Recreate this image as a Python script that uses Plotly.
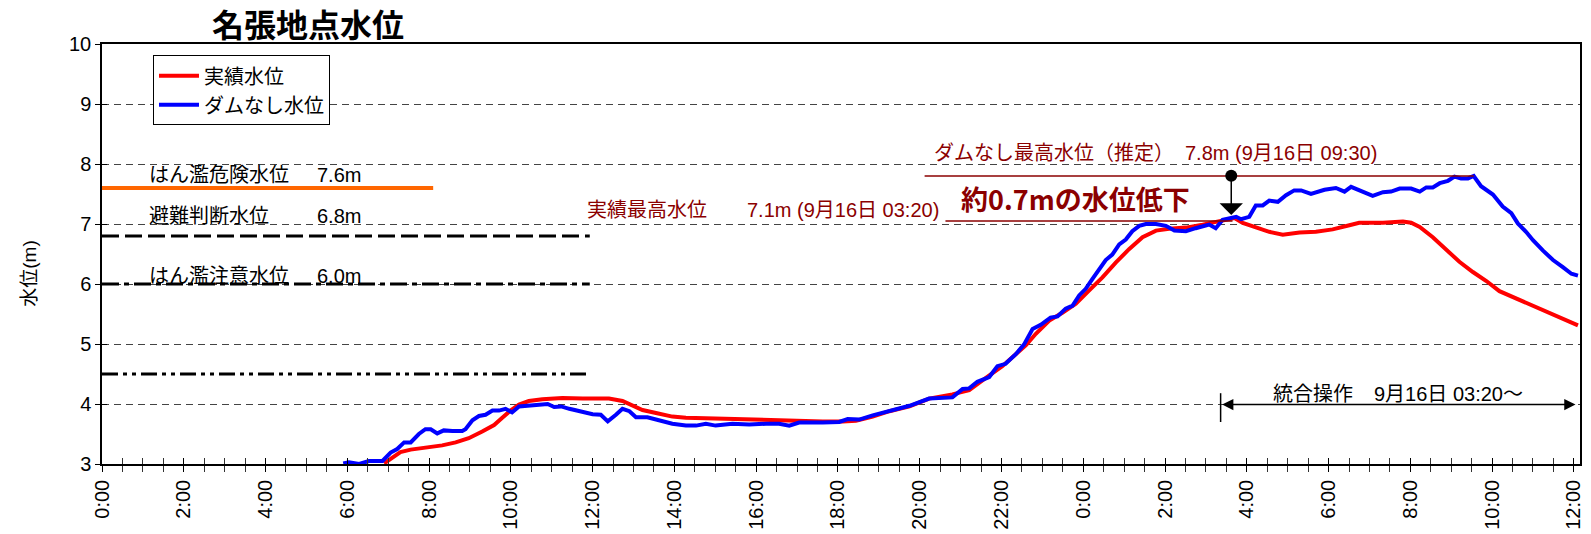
import plotly.graph_objects as go

# ---------------- data (hours from 9/15 0:00) ----------------
hours_actual = [6.9, 7.1, 7.3, 7.55, 7.91, 8.32, 8.65, 8.97, 9.3, 9.59, 9.79, 9.99, 10.2, 10.44,
                10.77, 11.26, 11.76, 12.4, 12.73, 12.98, 13.22, 13.55, 13.95, 14.28, 15.18, 16.0,
                16.81, 17.63, 18.12, 18.44, 18.85, 19.26, 19.75, 20.23, 20.8, 21.21, 21.61, 22.02,
                22.35, 22.6, 22.84, 23.17, 23.49, 23.82, 24.14, 24.47, 24.8, 25.12, 25.45, 25.78,
                26.1, 26.51, 26.92, 27.33, 27.7, 27.9, 28.22, 28.55, 28.88, 29.29, 29.69, 30.1,
                30.51, 30.75, 31.33, 31.82, 32.02, 32.23, 32.55, 32.88, 33.2, 33.53, 33.86, 34.18,
                34.59, 35.0, 35.41, 35.81, 36.1]
level_actual = [3.01, 3.11, 3.2, 3.24, 3.27, 3.31, 3.36, 3.43, 3.54, 3.65, 3.77, 3.89, 3.99, 4.05,
                4.08, 4.1, 4.09, 4.09, 4.05, 3.97, 3.9, 3.85, 3.79, 3.77, 3.75, 3.74,
                3.72, 3.71, 3.71, 3.72, 3.79, 3.88, 3.96, 4.09, 4.16, 4.23, 4.43, 4.63,
                4.83, 4.98, 5.17, 5.39, 5.52, 5.67, 5.89, 6.11, 6.36, 6.58, 6.78, 6.89,
                6.92, 6.94, 6.99, 7.05, 7.1, 7.02, 6.95, 6.87, 6.82, 6.86, 6.87, 6.91,
                6.98, 7.02, 7.02, 7.04, 7.02, 6.95, 6.78, 6.56, 6.37, 6.2, 6.05, 5.88,
                5.76, 5.64, 5.53, 5.41, 5.31]

hours_nodam = [5.9, 6.04, 6.29, 6.53, 6.86, 7.06, 7.22, 7.39, 7.55, 7.75, 7.91, 8.04, 8.2, 8.36,
               8.57, 8.81, 8.89, 9.06, 9.22, 9.38, 9.55, 9.71, 9.87, 10.03, 10.2, 10.44, 10.69,
               10.9, 11.06, 11.23, 11.43, 11.76, 12.0, 12.2, 12.37, 12.57, 12.73, 12.9, 13.06,
               13.34, 13.63, 13.95, 14.28, 14.53, 14.77, 15.01, 15.42, 15.83, 16.24, 16.56, 16.81,
               17.05, 17.63, 18.03, 18.24, 18.52, 18.85, 19.26, 19.75, 20.23, 20.8, 21.05, 21.21,
               21.41, 21.7, 21.9, 22.1, 22.35, 22.55, 22.76, 22.96, 23.2, 23.37, 23.57, 23.74,
               23.9, 24.06, 24.23, 24.39, 24.55, 24.71, 24.88, 25.04, 25.2, 25.37, 25.53, 25.78,
               26.02, 26.23, 26.51, 26.75, 27.08, 27.24, 27.41, 27.74, 27.86, 28.06, 28.22, 28.39,
               28.55, 28.76, 28.96, 29.16, 29.33, 29.57, 29.9, 30.18, 30.39, 30.55, 30.84, 31.08,
               31.33, 31.53, 31.74, 32.02, 32.23, 32.39, 32.55, 32.72, 32.92, 33.08, 33.24, 33.41,
               33.55, 33.73, 34.02, 34.26, 34.47, 34.63, 34.83, 35.0, 35.24, 35.49, 35.73, 35.94,
               36.1]
level_nodam = [3.01, 3.03, 3.0, 3.05, 3.05, 3.19, 3.25, 3.36, 3.36, 3.5, 3.58, 3.58, 3.51, 3.56,
               3.55, 3.55, 3.58, 3.73, 3.8, 3.82, 3.89, 3.89, 3.92, 3.86, 3.96, 3.97, 3.98,
               4.0, 3.95, 3.96, 3.92, 3.86, 3.83, 3.82, 3.71, 3.82, 3.92, 3.88, 3.78,
               3.78, 3.73, 3.67, 3.64, 3.64, 3.67, 3.64, 3.67, 3.66, 3.67, 3.67, 3.64,
               3.69, 3.69, 3.7, 3.75, 3.74, 3.81, 3.88, 3.97, 4.09, 4.11, 4.25, 4.26,
               4.37, 4.45, 4.63, 4.67, 4.83, 4.99, 5.25, 5.32, 5.44, 5.46, 5.59, 5.64,
               5.81, 5.92, 6.09, 6.24, 6.4, 6.49, 6.66, 6.74, 6.88, 6.97, 7.0, 7.0,
               6.97, 6.89, 6.88, 6.93, 6.99, 6.93, 7.07, 7.12, 7.08, 7.12, 7.31, 7.31,
               7.39, 7.37, 7.48, 7.56, 7.56, 7.5, 7.57, 7.6, 7.54, 7.62, 7.54, 7.47,
               7.53, 7.54, 7.59, 7.59, 7.54, 7.61, 7.61, 7.68, 7.72, 7.79, 7.76, 7.76,
               7.8, 7.63, 7.49, 7.29, 7.18, 7.01, 6.87, 6.73, 6.56, 6.4, 6.28, 6.17,
               6.14]

series_names = ["実績水位", "ダムなし水位"]

tick_hours = [0, 2, 4, 6, 8, 10, 12, 14, 16, 18, 20, 22, 24, 26, 28, 30, 32, 34, 36]
tick_labels = ["0:00", "2:00", "4:00", "6:00", "8:00", "10:00", "12:00", "14:00", "16:00",
               "18:00", "20:00", "22:00", "0:00", "2:00", "4:00", "6:00", "8:00", "10:00", "12:00"]
y_ticks = [3, 4, 5, 6, 7, 8, 9, 10]

# reference water levels
ref_names = ["はん濫危険水位", "避難判断水位", "はん濫注意水位"]
ref_levels = [7.6, 6.8, 6.0, 4.5]
ref_level_text = ["7.6m", "6.8m", "6.0m"]
ref_end_hours = [8.1, 11.93, 11.93, 11.93]

peak_actual = 7.1
peak_nodam = 7.8
peak_actual_text = ["実績最高水位", "7.1m (9月16日 03:20)"]
peak_nodam_text = ["ダムなし最高水位（推定）", "7.8m (9月16日 09:30)"]
reduction_text = "約0.7mの水位低下"
operation_text = ["統合操作", "9月16日 03:20～"]
operation_start = 27.36
operation_end = 36.04

# ---------------- figure ----------------
FONT = "Liberation Sans, Arial, Noto Sans CJK JP, sans-serif"
DARKRED = "#8B0000"
TXT = 20

fig = go.Figure()
fig.add_trace(go.Scatter(x=hours_actual, y=level_actual, mode="lines", name=series_names[0],
                         line=dict(color="#FF0000", width=4)))
fig.add_trace(go.Scatter(x=hours_nodam, y=level_nodam, mode="lines", name=series_names[1],
                         line=dict(color="#0000FF", width=4)))
# dummy trace to register overlay axes (for crossing ticks)
fig.add_trace(go.Scatter(x=[None], y=[None], xaxis="x2", yaxis="y2", showlegend=False,
                         hoverinfo="skip"))

shapes = []
ref_styles = [
    dict(color="#FF6600", width=4, dash="solid"),
    dict(color="black", width=3, dash="17px,6px"),
    dict(color="black", width=3, dash="17px,5px,5px,5px"),
    dict(color="black", width=3, dash="16px,5px,4px,5px,4px,5px"),
]
for lvl, xend, st in zip(ref_levels, ref_end_hours, ref_styles):
    shapes.append(dict(type="line", xref="x", yref="y", x0=0, x1=xend, y0=lvl, y1=lvl,
                       line=st))
# peak lines
shapes.append(dict(type="line", xref="x", yref="y", x0=20.12, x1=33.55,
                   y0=peak_nodam, y1=peak_nodam, line=dict(color=DARKRED, width=1.5)))
shapes.append(dict(type="line", xref="x", yref="y", x0=20.63, x1=27.65,
                   y0=peak_actual - 0.05, y1=peak_actual - 0.05,
                   line=dict(color=DARKRED, width=1.5)))
# operation start marker
shapes.append(dict(type="line", xref="x", yref="y", x0=operation_start, x1=operation_start,
                   y0=3.70, y1=4.18, line=dict(color="black", width=1.5)))

ann = []
label_y = [7.81, 7.13, 6.14]
for name, txt, ly in zip(ref_names, ref_level_text, label_y):
    ann.append(dict(x=1.10, y=ly, text=name, xanchor="left", yanchor="middle", showarrow=False,
                    font=dict(size=TXT, color="black")))
    ann.append(dict(x=5.2, y=ly, text=txt, xanchor="left", yanchor="middle", showarrow=False,
                    font=dict(size=TXT, color="black")))

ann.append(dict(x=11.82, y=7.24, text=peak_actual_text[0], xanchor="left", yanchor="middle",
                showarrow=False, font=dict(size=TXT, color=DARKRED)))
ann.append(dict(x=15.73, y=7.24, text=peak_actual_text[1], xanchor="left", yanchor="middle",
                showarrow=False, font=dict(size=TXT, color=DARKRED)))
ann.append(dict(x=20.31, y=8.19, text=peak_nodam_text[0], xanchor="left", yanchor="middle",
                showarrow=False, font=dict(size=TXT, color=DARKRED)))
ann.append(dict(x=26.45, y=8.19, text=peak_nodam_text[1], xanchor="left", yanchor="middle",
                showarrow=False, font=dict(size=TXT, color=DARKRED)))
ann.append(dict(x=23.82, y=7.42, text="<b>" + reduction_text + "</b>", xanchor="center",
                yanchor="middle", showarrow=False,
                font=dict(size=27, color=DARKRED, family="Noto Sans CJK JP, sans-serif")))
# arrow from no-dam peak to actual peak
ann.append(dict(x=27.62, y=7.15, ax=27.62, ay=7.83, xref="x", yref="y", axref="x", ayref="y",
                text="", showarrow=True, arrowhead=1, arrowsize=2.6, arrowwidth=1.5,
                arrowcolor="black", arrowside="end+start", startarrowhead=6, startarrowsize=2))
# operation period
ann.append(dict(x=operation_end, y=3.99, ax=operation_start, ay=3.99, xref="x", yref="y",
                axref="x", ayref="y", text="", showarrow=True, arrowhead=2, arrowsize=1.5,
                arrowwidth=1.5, arrowcolor="black", arrowside="end+start", startarrowhead=2,
                startarrowsize=1.5))
ann.append(dict(x=28.58, y=4.16, text=operation_text[0], xanchor="left", yanchor="middle",
                showarrow=False, font=dict(size=TXT, color="black")))
ann.append(dict(x=31.07, y=4.16, text=operation_text[1], xanchor="left", yanchor="middle",
                showarrow=False, font=dict(size=TXT, color="black")))
# y axis title
ann.append(dict(xref="paper", yref="paper", x=-0.049, y=0.452, text="水位(m)", textangle=-90,
                showarrow=False, xanchor="center", yanchor="middle",
                font=dict(size=19, color="black")))

fig.update_layout(
    width=1591, height=534,
    margin=dict(l=102, r=11, t=44, b=70, autoexpand=False),
    paper_bgcolor="white", plot_bgcolor="white",
    font=dict(family=FONT, size=18, color="black"),
    title=dict(text="<b>名張地点水位</b>", x=308 / 1591, xref="container", xanchor="center",
               y=1 - 26 / 534, yref="container", yanchor="middle", automargin=False,
               font=dict(size=32, family="Noto Sans CJK JP, sans-serif", color="black")),
    showlegend=True,
    legend=dict(x=0.0345, y=0.973, xanchor="left", yanchor="top", bordercolor="black",
                borderwidth=1, bgcolor="white", font=dict(size=20), traceorder="normal",
                entrywidth=172, entrywidthmode="pixels", itemwidth=40),
    xaxis=dict(range=[0, 36.15], tickmode="array", tickvals=tick_hours, ticktext=tick_labels,
               tickangle=-90, ticks="outside", ticklen=6, tickwidth=1, tickcolor="black",
               showline=True, linecolor="black", linewidth=1.5, mirror=True, automargin=False,
               showgrid=False, zeroline=False, tickfont=dict(size=20),
               minor=dict(dtick=0.5, tick0=0, ticks="outside", ticklen=6, tickwidth=1,
                          tickcolor="#333", showgrid=False)),
    xaxis2=dict(overlaying="x", matches="x", anchor="y", side="bottom", range=[0, 36.15],
                tickmode="array", tickvals=tick_hours, ticks="inside", ticklen=6, tickwidth=1,
                tickcolor="black", showticklabels=False, showline=False, showgrid=False,
                zeroline=False, automargin=False,
                minor=dict(dtick=0.5, tick0=0, ticks="inside", ticklen=6, tickwidth=1,
                           tickcolor="#333", showgrid=False)),
    yaxis=dict(range=[3, 10], tickmode="array", tickvals=y_ticks, ticks="outside", ticklen=5,
               tickwidth=1, tickcolor="black", showline=True, linecolor="black", linewidth=1.5,
               mirror=True, showgrid=True, gridcolor="#444444", gridwidth=1, automargin=False,
               griddash="7px,5px", zeroline=False, tickfont=dict(size=20)),
    yaxis2=dict(overlaying="y", matches="y", anchor="x", side="left", range=[3, 10],
                tickmode="array", tickvals=y_ticks, ticks="inside", ticklen=5, tickwidth=1,
                tickcolor="black", showticklabels=False, showline=False, showgrid=False,
                zeroline=False, automargin=False),
    shapes=shapes,
    annotations=ann,
)

fig.write_html("out.html", config={"displayModeBar": False},
               post_script="document.body.style.margin='0';")
